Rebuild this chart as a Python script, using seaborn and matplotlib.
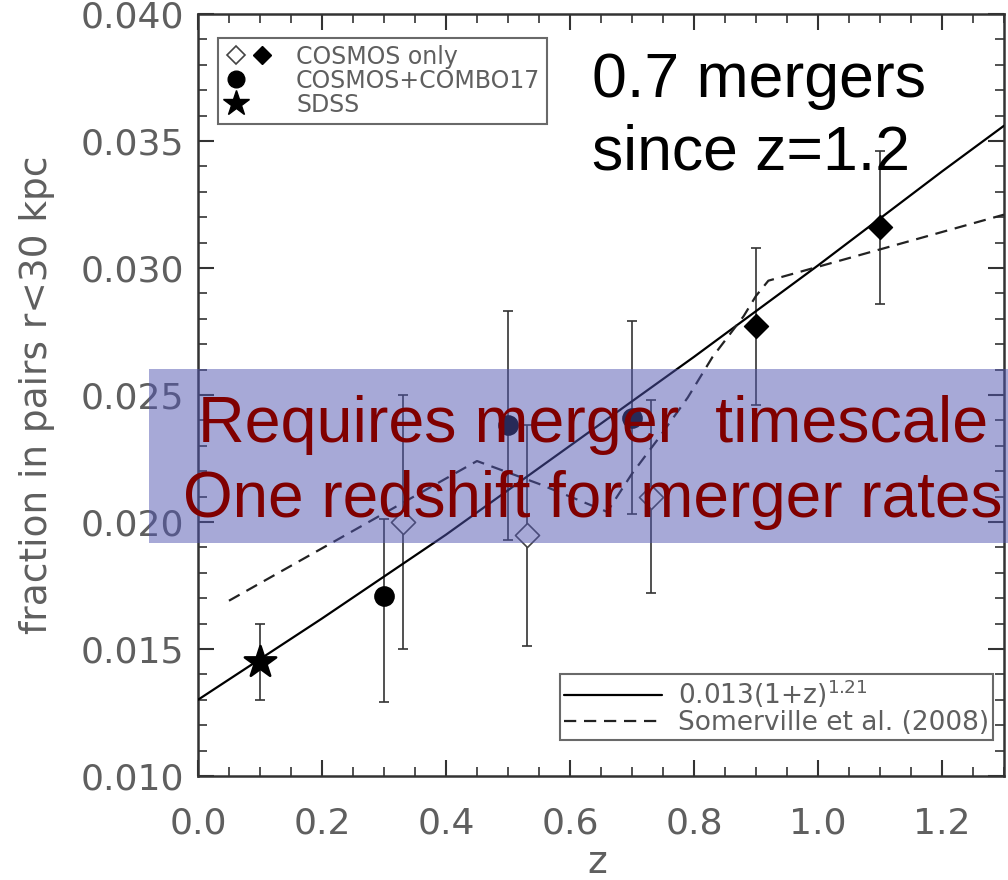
import numpy as np
import matplotlib
matplotlib.use("Agg")
import matplotlib.pyplot as plt
import seaborn as sns
from matplotlib.lines import Line2D
from matplotlib.legend_handler import HandlerTuple
from matplotlib.patches import Rectangle
from matplotlib.ticker import MultipleLocator, FormatStrFormatter

# data
sdss_z = [0.10]
sdss_f = [0.0145]
sdss_lo = [0.0015]
sdss_hi = [0.0015]

combo_z = [0.30, 0.50, 0.70]
combo_f = [0.0171, 0.0238, 0.0241]
combo_lo = [0.0042, 0.0045, 0.0038]
combo_hi = [0.0030, 0.0045, 0.0038]

open_z = [0.33, 0.53, 0.73]
open_f = [0.0200, 0.0195, 0.0210]
open_lo = [0.0050, 0.0044, 0.0038]
open_hi = [0.0050, 0.0043, 0.0038]

filled_z = [0.90, 1.10]
filled_f = [0.0277, 0.0316]
filled_lo = [0.0031, 0.0030]
filled_hi = [0.0031, 0.0030]

fit_z = [0.0, 0.2, 0.4, 0.6, 0.8, 1.0, 1.2, 1.3]
fit_f = [0.0130, 0.0162, 0.0195, 0.0230, 0.0265, 0.0301, 0.0338, 0.0356]

som_z = [0.05, 0.45, 0.55, 0.60, 0.66, 0.70, 0.74, 0.79, 0.83, 0.88, 0.90, 0.92, 1.11, 1.30]
som_f = [0.0169, 0.0224, 0.0215, 0.0210, 0.0204, 0.0219, 0.0232, 0.0249, 0.0265, 0.0281, 0.0289, 0.0295, 0.0308, 0.0321]

sns.set_style("ticks")
plt.rcParams['font.family'] = ['DejaVu Sans']

fig = plt.figure(figsize=(10.08, 8.8), dpi=100)
ax = fig.add_axes([0.1964, 0.1182, 0.7996, 0.8659])

grey = '#5f5f5f'
ecol = '#333333'
dash = [5.5, 3.5]

# model lines
sns.lineplot(x=fit_z, y=fit_f, ax=ax, color='black', linewidth=1.6, zorder=3)
sns.lineplot(x=som_z, y=som_f, ax=ax, color='#222222', linewidth=1.6, zorder=3)
ax.lines[-1].set_dashes(dash)

# error bars
for z, f, lo, hi in [(sdss_z, sdss_f, sdss_lo, sdss_hi),
                     (combo_z, combo_f, combo_lo, combo_hi),
                     (open_z, open_f, open_lo, open_hi),
                     (filled_z, filled_f, filled_lo, filled_hi)]:
    ax.errorbar(z, f, yerr=[lo, hi], fmt='none', ecolor=ecol, elinewidth=1.2,
                capsize=3.5, capthick=1.2, zorder=2)

# points
sns.scatterplot(x=sdss_z, y=sdss_f, ax=ax, marker='*', s=560, color='black',
                edgecolor='black', zorder=4)
sns.scatterplot(x=combo_z, y=combo_f, ax=ax, marker='o', s=190, color='black',
                edgecolor='black', zorder=4)
sns.scatterplot(x=filled_z, y=filled_f, ax=ax, marker='D', s=150, color='black',
                edgecolor='black', zorder=4)
ax.scatter(open_z, open_f, marker='D', s=150, facecolors='white',
           edgecolors='#444444', linewidths=1.2, zorder=4)

ax.set_xlim(0.0, 1.3)
ax.set_ylim(0.010, 0.040)
ax.xaxis.set_major_locator(MultipleLocator(0.2))
ax.xaxis.set_minor_locator(MultipleLocator(0.05))
ax.yaxis.set_major_locator(MultipleLocator(0.005))
ax.yaxis.set_minor_locator(MultipleLocator(0.001))
ax.xaxis.set_major_formatter(FormatStrFormatter('%.1f'))
ax.yaxis.set_major_formatter(FormatStrFormatter('%.3f'))
ax.tick_params(which='both', direction='in', top=True, right=True,
               colors='#333333', labelcolor=grey, labelsize=26)
ax.tick_params(which='major', length=11.5, width=1.5)
ax.tick_params(which='minor', length=6.5, width=1.2)
ax.tick_params(axis='y', which='major', pad=10)
ax.tick_params(axis='x', which='major', pad=22)
for sp in ax.spines.values():
    sp.set_linewidth(1.8)
    sp.set_color('#333333')

ax.set_xlabel('z', fontsize=27, color=grey)
ax.set_ylabel('fraction in pairs r<30 kpc', fontsize=27, color=grey)
ax.xaxis.set_label_coords(0.495, -0.09)
ax.yaxis.set_label_coords(-0.177, 0.5)

# legends
h_open = Line2D([], [], marker='D', linestyle='none', markersize=9,
                markerfacecolor='white', markeredgecolor='#444444', markeredgewidth=1.2)
h_fill = Line2D([], [], marker='D', linestyle='none', markersize=9, color='black')
h_circ = Line2D([], [], marker='o', linestyle='none', markersize=12, color='black')
h_star = Line2D([], [], marker='*', linestyle='none', markersize=19, color='black')
h_none = Line2D([], [], linestyle='none')
leg1 = ax.legend([(h_open, h_fill), (h_circ, h_none), (h_star, h_none)],
                 ['COSMOS only', 'COSMOS+COMBO17', 'SDSS'],
                 handler_map={tuple: HandlerTuple(ndivide=None, pad=0.2)},
                 loc='upper left', bbox_to_anchor=(0.025, 0.969), borderaxespad=0,
                 fontsize=17, frameon=True, fancybox=False, edgecolor='#444444',
                 handlelength=2.0, handletextpad=1.0, labelspacing=0.0,
                 borderpad=0.3, labelcolor=grey)
leg1.get_frame().set_linewidth(1.5)
ax.add_artist(leg1)

h_fit = Line2D([], [], color='black', linewidth=1.6)
h_som = Line2D([], [], color='#222222', linewidth=1.6, dashes=dash)
leg2 = ax.legend([h_fit, h_som],
                 [r'0.013(1+z)$^{1.21}$', 'Somerville et al. (2008)'],
                 loc='lower right', bbox_to_anchor=(0.986, 0.047), borderaxespad=0,
                 fontsize=19, frameon=True, fancybox=False, edgecolor='#444444',
                 handlelength=3.7, handletextpad=0.6, labelspacing=0.0,
                 borderpad=0.15, labelcolor=grey)
leg2.get_frame().set_linewidth(1.5)

# overlay box and annotations
fig.add_artist(Rectangle((0.148, 0.383), 0.852, 0.198, transform=fig.transFigure,
                         facecolor='#5155b1', alpha=0.5, edgecolor='none', zorder=10))
fig.text(0.588, 1 - 442 / 880, 'Requires merger  timescale', color='#800000',
         fontsize=46.5, family='Liberation Sans', ha='center', va='baseline', zorder=11)
fig.text(0.588, 1 - 517 / 880, 'One redshift for merger rates', color='#800000',
         fontsize=46, family='Liberation Sans', ha='center', va='baseline', zorder=11)
fig.text(592 / 1008, 1 - 97 / 880, '0.7 mergers', color='black',
         fontsize=45, family='Liberation Sans', ha='left', va='baseline', zorder=11)
fig.text(592 / 1008, 1 - 170 / 880, 'since z=1.2', color='black',
         fontsize=45, family='Liberation Sans', ha='left', va='baseline', zorder=11)

fig.savefig('out.png', dpi=100)
